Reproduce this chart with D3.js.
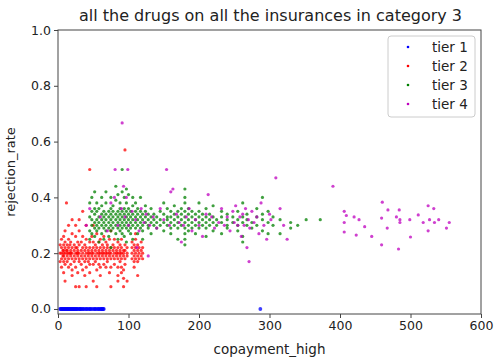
<!DOCTYPE html>
<html>
<head>
<meta charset="utf-8">
<script src="https://cdn.jsdelivr.net/npm/d3@7"></script>
<style>
  body { margin: 0; background: #fff; }
  text { font-family: "DejaVu Sans", sans-serif; fill: #222; }
</style>
</head>
<body>
<script>
// tick labels
var xTicks = [0, 100, 200, 300, 400, 500, 600];
var yTicks = [0.0, 0.2, 0.4, 0.6, 0.8, 1.0];
var tierNames = ["tier 1", "tier 2", "tier 3", "tier 4"];

// tier 1: copayment values, all at rejection 0
var tier1X = [3, 4, 5, 6, 7, 8, 9, 10, 11, 12, 13, 14, 15, 16, 17, 18, 19, 20, 21, 22, 23, 24, 25, 26, 27, 28, 30, 31,
  32, 33, 35, 36, 38, 40, 41, 43, 45, 46, 48, 50, 52, 53, 55, 57, 58, 60, 61, 62, 63, 64, 65, 287];

// tier 2: [copayment, [rejection rates]]
var tier2 = [
  [3, [.2, .17, .23]], [5, [.18, .2, .22, .15, .25]], [7, [.21, .19]], [8, [.19, .21, .17, .23, .2, .26, .13]],
  [10, [.2, .18, .22, .24, .16, .28, .1]], [12, [.38, .21]], [13, [.19, .21, .2, .17, .23]],
  [15, [.18, .2, .22, .25, .15, .3]], [17, [.2, .23]], [18, [.2, .19, .21, .24, .16]], [20, [.2, .22, .18, .27, .14, .12, .32]],
  [23, [.19, .21, .23, .17]], [25, [.2, .18, .22, .15, .26, .08, .3]], [27, [.2, .22]], [28, [.19, .21, .2, .24, .13]],
  [30, [.2, .17, .23, .18, .28, .08, .32]], [33, [.21, .19, .16, .24]], [35, [.2, .22, .18, .14, .26, .35]],
  [38, [.19, .21, .23, .17, .12]], [40, [.2, .18, .22, .25, .15, .08, .3]], [43, [.2, .21, .19, .17]],
  [45, [.2, .22, .18, .24, .16, .13, .5]], [48, [.19, .21, .2, .26]], [50, [.2, .18, .22, .16, .24, .1, .3]],
  [53, [.21, .19, .23, .17]], [55, [.2, .18, .22, .14, .27, .08]], [58, [.2, .19, .21, .24, .16]],
  [60, [.2, .22, .18, .15, .25, .12]], [63, [.2, .21, .19, .23]], [65, [.2, .18, .22, .16, .26]],
  [68, [.19, .21, .2, .24, .15]], [70, [.2, .22, .18, .17, .23]], [73, [.2, .21, .19, .25, .13]],
  [75, [.2, .18, .22, .15, .08, .28]], [78, [.19, .21, .23]], [80, [.2, .22, .18, .16, .25]],
  [83, [.2, .19, .21]], [85, [.2, .18, .22, .24, .15, .12, .1]], [88, [.2, .21, .19, .17, .23]],
  [90, [.2, .22, .18, .25, .15, .13]], [93, [.2, .21, .19, .14, .11, .08]], [95, [.21, .18, .23, .16, .57]],
  [98, [.2, .22, .19, .1]], [105, [.2, .22, .18, .24]], [108, [.21, .19, .17, .23, .15]],
  [110, [.2, .22, .18, .25, .27]], [113, [.19, .21, .23, .17, .12]], [115, [.2, .22, .18]],
  [118, [.21, .19, .24]], [120, [.2, .22, .18]]
];

// tier 3
var tier3 = [
  [45, [.28, .33, .38, .25]], [48, [.3, .35, .32, .27, .4]], [52, [.31, .34, .29, .36, .26, .42]],
  [55, [.32, .3, .35, .28, .38]], [58, [.33, .31, .29, .36, .24]], [62, [.32, .34, .3, .27, .37, .4]],
  [65, [.31, .33, .29, .35, .25]], [68, [.32, .3, .34, .28, .38, .42]], [72, [.33, .31, .35, .29, .26]],
  [75, [.32, .34, .3, .36, .28, .4, .22]], [78, [.31, .33, .29, .35, .37]], [82, [.32, .3, .34, .27, .39, .44]],
  [85, [.33, .31, .35, .29, .25, .41]], [88, [.32, .34, .3, .36, .28, .38]], [91, [.31, .33, .29, .35, .27, .42, .5]],
  [94, [.32, .3, .34, .36, .26, .4]], [97, [.33, .31, .35, .29, .24, .38, .43]], [100, [.32, .34, .3, .28, .36, .41]],
  [103, [.31, .33, .29, .35, .27]], [106, [.32, .3, .34, .37, .25, .4]], [110, [.33, .31, .29, .35, .38]],
  [113, [.32, .34, .3, .27, .36]], [117, [.31, .33, .35, .29, .4]], [120, [.32, .3, .34, .28, .25]],
  [124, [.33, .31, .35, .37]], [128, [.32, .3, .34, .29]], [132, [.31, .33, .36, .27]], [136, [.32, .3, .34]],
  [140, [.31, .33, .29]], [145, [.32, .3, .35]], [150, [.31, .34, .28, .38]], [155, [.32, .3, .33, .36]],
  [160, [.31, .33, .29, .35, .27]], [165, [.32, .3, .34, .37]], [170, [.33, .31, .29, .35, .25]],
  [175, [.32, .34, .3, .36]], [180, [.31, .33, .35, .29, .27, .38, .4, .43, .25, .23]], [185, [.32, .3, .34, .36, .28]],
  [190, [.33, .31, .29, .35]], [195, [.32, .34, .3, .27]], [200, [.31, .33, .35, .29, .38]], [205, [.32, .3, .34]],
  [210, [.33, .31, .29, .36, .26]], [215, [.32, .34, .3]], [220, [.31, .33, .37, .28]], [225, [.32, .3]],
  [232, [.33, .31, .35, .27]], [240, [.32, .3, .34, .29]], [248, [.31, .33]], [255, [.32, .35, .28, .3]],
  [262, [.33, .31, .38, .26, .24]], [268, [.32, .3, .34]], [275, [.31, .29]], [282, [.33, .3, .36]],
  [290, [.32, .28, .34, .4]], [298, [.31, .35, .27]], [305, [.33, .3]], [315, [.32, .27]], [330, [.31, .29]],
  [340, [.3]], [352, [.32]], [372, [.32]]
];

// tier 4
var tier4 = [
  [40, [.3]], [45, [.36]], [60, [.33]], [70, [.28]], [75, [.38]], [80, [.4]], [81, [.5]], [85, [.3]], [90, [.36]],
  [91, [.667]], [93, [.44]], [95, [.33]], [97, [.4]], [99, [.5]], [100, [.3]], [105, [.35]], [110, [.32]],
  [112, [.22]], [115, [.28]], [118, [.36]], [122, [.31]], [125, [.34]], [128, [.19]], [130, [.3]], [135, [.33]],
  [140, [.29]], [145, [.36]], [150, [.32]], [154, [.5]], [158, [.3]], [160, [.42]], [163, [.43]], [168, [.34]],
  [172, [.31]], [175, [.24]], [178, [.3]], [182, [.33]], [186, [.36]], [190, [.28]], [195, [.32]], [200, [.3]],
  [205, [.26]], [210, [.34]], [213, [.41]], [218, [.33]], [222, [.29]], [228, [.31]], [232, [.36]], [236, [.3]],
  [240, [.33]], [244, [.28]], [248, [.35]], [250, [.31]], [252, [.37]], [255, [.3]], [258, [.33]], [260, [.26]],
  [262, [.34]], [264, [.3]], [266, [.36]], [268, [.22]], [270, [.32]], [271, [.17]], [272, [.29]], [275, [.35]],
  [278, [.31]], [282, [.33]], [285, [.27]], [288, [.38]], [292, [.3]], [296, [.25]], [300, [.34]], [302, [.32]],
  [309, [.47]], [315, [.36]], [320, [.3]], [325, [.25]], [390, [.44]],
  [406, [.35, .31, .276]], [409, [.335]], [420, [.33]], [423, [.265]], [427, [.32]], [435, [.295]], [445, [.26]],
  [459, [.326, .23]], [460, [.383]], [467, [.29]], [468, [.355]], [480, [.33]], [483, [.215]], [484, [.355]],
  [485, [.31, .32]], [499, [.32]], [500, [.258]], [511, [.337]], [518, [.31]], [525, [.37, .28]], [527, [.32]],
  [533, [.36]], [534, [.31]], [540, [.32]], [551, [.29]], [555, [.31]]
];

var colors = ["#0000ff", "#ff0000", "#008000", "#bf00bf"];

function flatten(cols) {
  var out = [];
  cols.forEach(function(c) { c[1].forEach(function(v) { out.push([c[0], v]); }); });
  return out;
}
var series = [
  tier1X.map(function(x) { return [x, 0]; }),
  flatten(tier2),
  flatten(tier3),
  flatten(tier4)
];

var W = 501, H = 357;
var plotL = 58, plotR = 481, plotT = 30, plotB = 314;

var svg = d3.select("body").append("svg")
  .attr("width", W)
  .attr("height", H);

var x = d3.scaleLinear().domain([0, 600]).range([plotL, plotR]);
var y = d3.scaleLinear().domain([-0.018, 1.0]).range([plotB, plotT]);

// points
series.forEach(function(pts, i) {
  svg.append("g").selectAll("circle")
    .data(pts)
    .enter().append("circle")
    .attr("cx", function(d) { return x(d[0]); })
    .attr("cy", function(d) { return y(d[1]); })
    .attr("r", i === 0 ? 1.9 : 1.6)
    .attr("fill", colors[i])
    .attr("opacity", 0.75);
});

// frame
svg.append("rect")
  .attr("x", plotL).attr("y", plotT)
  .attr("width", plotR - plotL).attr("height", plotB - plotT)
  .attr("fill", "none").attr("stroke", "#444").attr("stroke-width", 1);

var xAxis = svg.append("g")
  .attr("transform", "translate(0," + plotB + ")")
  .call(d3.axisBottom(x).tickValues(xTicks).tickSize(4).tickPadding(3));
var yAxis = svg.append("g")
  .attr("transform", "translate(" + plotL + ",0)")
  .call(d3.axisLeft(y).tickValues(yTicks).tickFormat(d3.format(".1f")).tickSize(4).tickPadding(3));
[xAxis, yAxis].forEach(function(a) {
  a.select(".domain").remove();
  a.selectAll("line").attr("stroke", "#444");
  a.selectAll("text").attr("font-size", "12.5px").attr("fill", "#333")
    .style("font-family", "DejaVu Sans, sans-serif");
});

// title and labels
svg.append("text")
  .attr("x", (plotL + plotR) / 2 + 1).attr("y", 21)
  .attr("text-anchor", "middle")
  .attr("font-size", "16px")
  .text("all the drugs on all the insurances in category 3");

svg.append("text")
  .attr("x", (plotL + plotR) / 2).attr("y", 354)
  .attr("text-anchor", "middle")
  .attr("font-size", "13.5px")
  .text("copayment_high");

svg.append("text")
  .attr("transform", "translate(15," + ((plotT + plotB) / 2) + ") rotate(-90)")
  .attr("text-anchor", "middle")
  .attr("font-size", "13px")
  .text("rejection_rate");

// legend
var lg = svg.append("g").attr("transform", "translate(388,36)");
lg.append("rect")
  .attr("width", 87).attr("height", 81).attr("rx", 3)
  .attr("fill", "#fff").attr("fill-opacity", 0.8)
  .attr("stroke", "#ccc");
tierNames.forEach(function(name, i) {
  var row = lg.append("g").attr("transform", "translate(0," + (11 + i * 19) + ")");
  row.append("circle").attr("cx", 20).attr("cy", 0).attr("r", 1.3).attr("fill", colors[i]);
  row.append("text").attr("x", 44).attr("y", 5).attr("font-size", "13.5px").text(name);
});
</script>
</body>
</html>
